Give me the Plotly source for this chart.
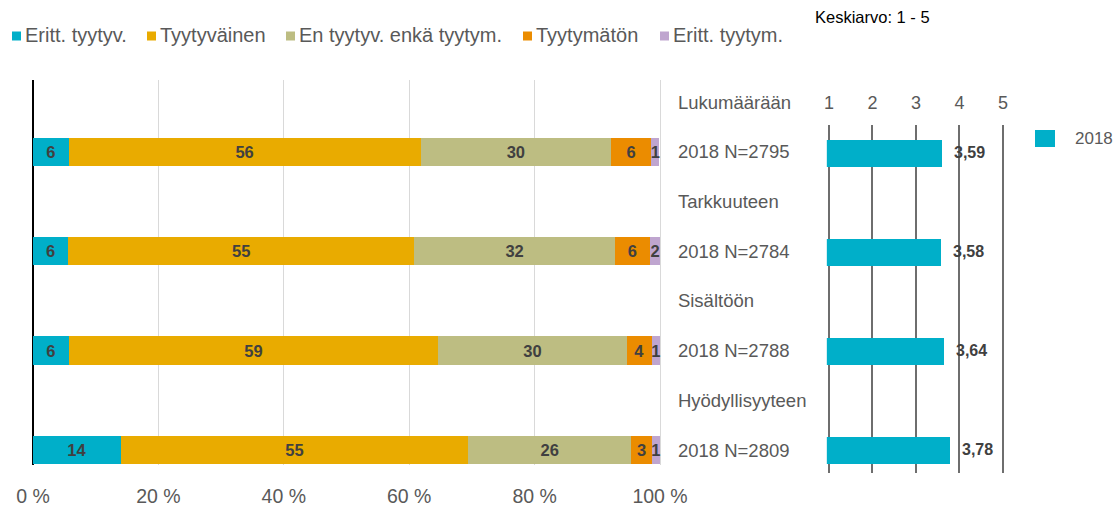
import plotly.graph_objects as go

# --- data -------------------------------------------------------------
topics = ["Lukumäärään", "Tarkkuuteen", "Sisältöön", "Hyödyllisyyteen"]
groups = ["2018 N=2795", "2018 N=2784", "2018 N=2788", "2018 N=2809"]

answer_options = ["Eritt. tyytyv.", "Tyytyväinen", "En tyytyv. enkä tyytym.",
                  "Tyytymätön", "Eritt. tyytym."]
very_satisfied = [5.7, 5.6, 5.7, 14.0]
satisfied = [56.1, 55.2, 58.9, 55.4]
neutral = [30.4, 32.0, 30.1, 26.0]
dissatisfied = [6.4, 5.6, 4.0, 3.3]
very_dissatisfied = [1.3, 1.6, 1.3, 1.3]

means = [3.59, 3.58, 3.64, 3.78]
mean_series = "2018"

pct_ticks = [0, 20, 40, 60, 80, 100]
pct_tick_text = ["0 %", "20 %", "40 %", "60 %", "80 %", "100 %"]
mean_ticks = [1, 2, 3, 4, 5]

# --- styling ----------------------------------------------------------
W, H = 1120, 513
FONT = "Liberation Sans, Arial, sans-serif"
GREY_TEXT = "#595959"
LABEL_TEXT = "#404040"
colors = ["#00AFC9", "#E9AB00", "#BDBD82", "#EB8C00", "#BFA5CF"]

# horizontal legend: left edge of each entry's text (px)
legend_text_x = [25, 160, 299, 536, 673]
LEGEND_Y = 36


def fx(p):
    return p / W


def fy(p):
    return 1 - p / H


# category rows: topic header rows and data rows alternate
row_text = []
for t, g in zip(topics, groups):
    row_text += [t, g]
row_pos = list(range(len(row_text)))
bar_rows = row_pos[1::2]
mean_rows = list(range(len(means)))

fig = go.Figure()

series = [very_satisfied, satisfied, neutral, dissatisfied, very_dissatisfied]
for name, vals, col in zip(answer_options, series, colors):
    fig.add_trace(go.Bar(
        name=name, orientation="h", x=vals, y=bar_rows,
        marker=dict(color=col, line=dict(width=0)),
        width=0.57,
        texttemplate="%{x:.0f}", textposition="inside",
        insidetextanchor="middle", constraintext="none", textangle=0,
        textfont=dict(family=FONT, size=16.5, color=LABEL_TEXT, weight="bold"),
        xaxis="x", yaxis="y", showlegend=False, hoverinfo="skip",
    ))

fig.add_trace(go.Bar(
    name=mean_series, orientation="h", x=means, y=mean_rows,
    marker=dict(color=colors[0], line=dict(width=0)),
    width=0.273, xaxis="x2", yaxis="y2", showlegend=False,
    hoverinfo="skip",
))

# mean value labels beside the bars
for v, r in zip(means, mean_rows):
    fig.add_annotation(
        x=v, y=r, xref="x2", yref="y2", text=f"{v:.2f}".replace(".", ","),
        showarrow=False, xanchor="left", yanchor="middle", xshift=10, yshift=1,
        font=dict(family=FONT, size=16, color=LABEL_TEXT, weight="bold"),
    )

# legend for the answer options (swatch + label)
for name, col, tx in zip(answer_options, colors, legend_text_x):
    fig.add_shape(
        type="rect", xref="paper", yref="paper",
        x0=fx(tx - 13), x1=fx(tx - 4), y0=fy(LEGEND_Y + 4.5), y1=fy(LEGEND_Y - 4.5),
        fillcolor=col, line=dict(width=0),
    )
    fig.add_annotation(
        x=fx(tx - 2), y=fy(LEGEND_Y - 1), xref="paper", yref="paper", text=name,
        showarrow=False, xanchor="left", yanchor="middle",
        font=dict(family=FONT, size=20, color=GREY_TEXT),
    )

# legend for the mean bars
fig.add_shape(
    type="rect", xref="paper", yref="paper",
    x0=fx(1035), x1=fx(1055), y0=fy(147), y1=fy(130),
    fillcolor=colors[0], line=dict(width=0),
)
fig.add_annotation(
    x=fx(1073), y=fy(139), xref="paper", yref="paper", text=mean_series,
    showarrow=False, xanchor="left", yanchor="middle",
    font=dict(family=FONT, size=17, color=GREY_TEXT),
)

fig.add_annotation(
    x=fx(813), y=fy(17), xref="paper", yref="paper", text="Keskiarvo: 1 - 5",
    showarrow=False, xanchor="left", yanchor="middle",
    font=dict(family=FONT, size=16.5, color="#000000"),
)

fig.update_layout(
    width=W, height=H,
    margin=dict(l=0, r=0, t=0, b=0, autoexpand=False),
    paper_bgcolor="white", plot_bgcolor="white",
    barmode="stack", separators=", ",
    font=dict(family=FONT, color=GREY_TEXT),
    uniformtext=dict(minsize=16, mode="show"),
    showlegend=False,
    xaxis=dict(
        domain=[fx(33), fx(661.9)], range=[0, 100.3],
        tickmode="array", tickvals=pct_ticks, ticktext=pct_tick_text,
        showgrid=True, gridcolor="#D9D9D9", gridwidth=1,
        zeroline=True, zerolinecolor="#000000", zerolinewidth=1.5,
        showline=False, ticks="", ticklabelstandoff=17,
        tickfont=dict(family=FONT, size=19.5, color=GREY_TEXT), anchor="y",
    ),
    yaxis=dict(
        domain=[fy(465), fy(80)], range=[7.30, -0.443], side="right",
        tickmode="array", tickvals=row_pos, ticktext=row_text,
        showgrid=False, zeroline=False,
        showline=False, ticks="", ticklabelstandoff=15,
        tickfont=dict(family=FONT, size=18.5, color=GREY_TEXT), anchor="x",
    ),
    xaxis2=dict(
        domain=[fx(826.825), fx(1005.175)], range=[0.95, 5.05],
        tickmode="array", tickvals=mean_ticks,
        side="top", showgrid=True, gridcolor="#6E6E6E", gridwidth=1.5,
        zeroline=False, showline=False, ticks="", ticklabelstandoff=11,
        tickfont=dict(family=FONT, size=18, color=GREY_TEXT), anchor="y2",
    ),
    yaxis2=dict(
        domain=[fy(473), fy(125)], range=[3.232, -0.283], showticklabels=False,
        showgrid=False, zeroline=False, showline=False, ticks="", anchor="x2",
    ),
)

fig.write_html("out.html")
